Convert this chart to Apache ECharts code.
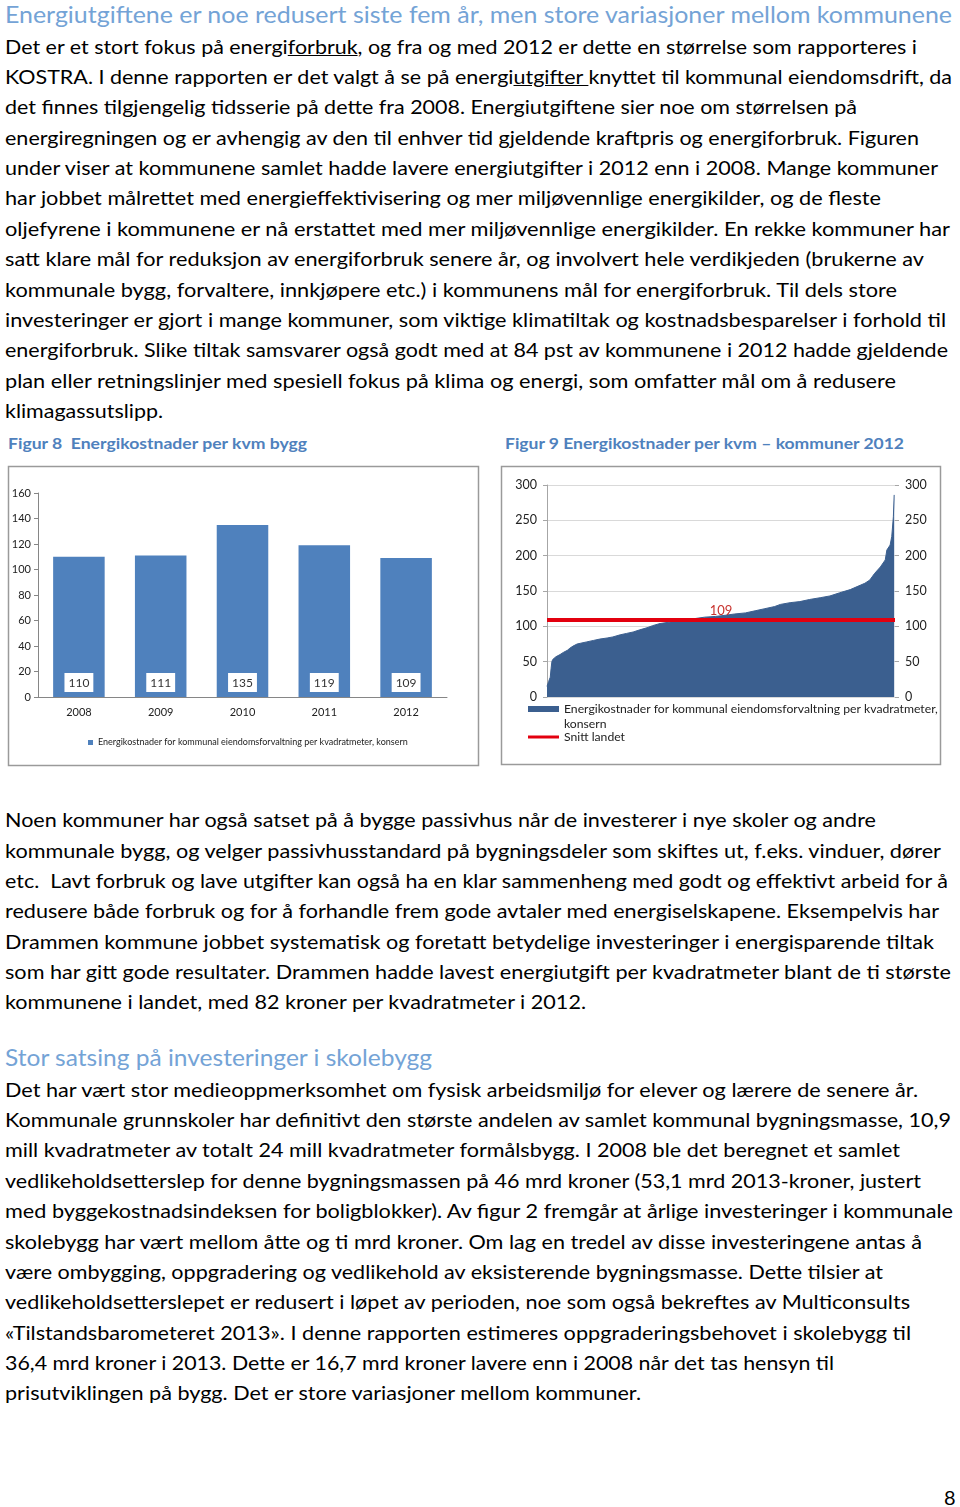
<!DOCTYPE html>
<html><head><meta charset="utf-8">
<script src="https://cdn.jsdelivr.net/npm/echarts@6/dist/echarts.min.js"></script>
<style>
html,body{margin:0;padding:0;background:#fff;}
body{width:960px;height:1507px;position:relative;overflow:hidden;font-family:Lato,'Open Sans',sans-serif;}
.ln{position:absolute;left:5px;white-space:nowrap;font-size:19px;line-height:30px;height:30px;color:#000;transform-origin:0 50%;display:inline-block;}
.h{color:#74A3D6;font-size:23px;}
.cap{color:#4F81BD;font-weight:bold;font-size:16px;}
#c1{position:absolute;left:0;top:430px;width:485px;height:340px;}
#c2{position:absolute;left:495px;top:430px;width:465px;height:340px;}
</style>
</head>
<body>
<div class="ln h" style="top:-1px" data-e="952">Energiutgiftene er noe redusert siste fem år, men store variasjoner mellom kommunene</div>
<div class="ln" style="top:32px" data-e="917">Det er et stort fokus på energi<u>forbruk</u>, og fra og med 2012 er dette en størrelse som rapporteres i</div>
<div class="ln" style="top:62px" data-e="952">KOSTRA. I denne rapporten er det valgt å se på energi<u>utgifter </u>knyttet til kommunal eiendomsdrift, da</div>
<div class="ln" style="top:92px" data-e="857">det finnes tilgjengelig tidsserie på dette fra 2008. Energiutgiftene sier noe om størrelsen på</div>
<div class="ln" style="top:123px" data-e="919">energiregningen og er avhengig av den til enhver tid gjeldende kraftpris og energiforbruk. Figuren</div>
<div class="ln" style="top:153px" data-e="938">under viser at kommunene samlet hadde lavere energiutgifter i 2012 enn i 2008. Mange kommuner</div>
<div class="ln" style="top:183px" data-e="881">har jobbet målrettet med energieffektivisering og mer miljøvennlige energikilder, og de fleste</div>
<div class="ln" style="top:214px" data-e="950">oljefyrene i kommunene er nå erstattet med mer miljøvennlige energikilder. En rekke kommuner har</div>
<div class="ln" style="top:244px" data-e="924">satt klare mål for reduksjon av energiforbruk senere år, og involvert hele verdikjeden (brukerne av</div>
<div class="ln" style="top:275px" data-e="897">kommunale bygg, forvaltere, innkjøpere etc.) i kommunens mål for energiforbruk. Til dels store</div>
<div class="ln" style="top:305px" data-e="946">investeringer er gjort i mange kommuner, som viktige klimatiltak og kostnadsbesparelser i forhold til</div>
<div class="ln" style="top:335px" data-e="948">energiforbruk. Slike tiltak samsvarer også godt med at 84 pst av kommunene i 2012 hadde gjeldende</div>
<div class="ln" style="top:366px" data-e="896">plan eller retningslinjer med spesiell fokus på klima og energi, som omfatter mål om å redusere</div>
<div class="ln" style="top:396px" data-e="163">klimagassutslipp.</div>

<div class="ln cap" style="top:428px;left:8px" data-e="307">Figur 8&nbsp; Energikostnader per kvm bygg</div>
<div class="ln cap" style="top:428px;left:505px" data-e="904">Figur 9 Energikostnader per kvm – kommuner 2012</div>

<div id="c1"></div>
<div id="c2"></div>

<div class="ln" style="top:805px" data-e="876">Noen kommuner har også satset på å bygge passivhus når de investerer i nye skoler og andre</div>
<div class="ln" style="top:836px" data-e="941">kommunale bygg, og velger passivhusstandard på bygningsdeler som skiftes ut, f.eks. vinduer, dører</div>
<div class="ln" style="top:866px" data-e="948">etc.&nbsp; Lavt forbruk og lave utgifter kan også ha en klar sammenheng med godt og effektivt arbeid for å</div>
<div class="ln" style="top:896px" data-e="939">redusere både forbruk og for å forhandle frem gode avtaler med energiselskapene. Eksempelvis har</div>
<div class="ln" style="top:927px" data-e="934">Drammen kommune jobbet systematisk og foretatt betydelige investeringer i energisparende tiltak</div>
<div class="ln" style="top:957px" data-e="951">som har gitt gode resultater. Drammen hadde lavest energiutgift per kvadratmeter blant de ti største</div>
<div class="ln" style="top:987px" data-e="586">kommunene i landet, med 82 kroner per kvadratmeter i 2012.</div>

<div class="ln h" style="top:1042px" data-e="432">Stor satsing på investeringer i skolebygg</div>

<div class="ln" style="top:1075px" data-e="918">Det har vært stor medieoppmerksomhet om fysisk arbeidsmiljø for elever og lærere de senere år.</div>
<div class="ln" style="top:1105px" data-e="951">Kommunale grunnskoler har definitivt den største andelen av samlet kommunal bygningsmasse, 10,9</div>
<div class="ln" style="top:1135px" data-e="900">mill kvadratmeter av totalt 24 mill kvadratmeter formålsbygg. I 2008 ble det beregnet et samlet</div>
<div class="ln" style="top:1166px" data-e="921">vedlikeholdsetterslep for denne bygningsmassen på 46 mrd kroner (53,1 mrd 2013-kroner, justert</div>
<div class="ln" style="top:1196px" data-e="953">med byggekostnadsindeksen for boligblokker). Av figur 2 fremgår at årlige investeringer i kommunale</div>
<div class="ln" style="top:1227px" data-e="922">skolebygg har vært mellom åtte og ti mrd kroner. Om lag en tredel av disse investeringene antas å</div>
<div class="ln" style="top:1257px" data-e="883">være ombygging, oppgradering og vedlikehold av eksisterende bygningsmasse. Dette tilsier at</div>
<div class="ln" style="top:1287px" data-e="910">vedlikeholdsetterslepet er redusert i løpet av perioden, noe som også bekreftes av Multiconsults</div>
<div class="ln" style="top:1318px" data-e="911">«Tilstandsbarometeret 2013». I denne rapporten estimeres oppgraderingsbehovet i skolebygg til</div>
<div class="ln" style="top:1348px" data-e="834">36,4 mrd kroner i 2013. Dette er 16,7 mrd kroner lavere enn i 2008 når det tas hensyn til</div>
<div class="ln" style="top:1378px" data-e="641">prisutviklingen på bygg. Det er store variasjoner mellom kommuner.</div>

<div class="ln" style="top:1482px;left:944px;font-size:20px">8</div>

<script>
// ---- Figur 8 data ----
const years = ['2008', '2009', '2010', '2011', '2012'];
const costs = [110, 111, 135, 119, 109];
const seriesName1 = 'Energikostnader for kommunal eiendomsforvaltning per kvadratmeter, konsern';

// ---- Figur 9 data (kommuner sortert etter kostnad, 2012) ----
const ranks = [0, 1, 2, 4, 5, 6, 7, 11, 16, 20, 25, 28, 32, 37, 41, 49, 57, 65, 74, 81, 90, 98, 106, 114, 123, 130, 139, 145, 157, 170, 182, 194, 207, 219, 231, 244, 256, 268, 280, 287, 299, 311, 323, 336, 348, 360, 373, 385, 391, 397, 403, 410, 416, 418, 422, 424, 426, 427];
const kostnad = [15, 16, 22, 28, 40, 50, 53, 57, 60, 63, 66, 69, 72, 75, 76, 78, 80, 82, 83.5, 85, 88, 90, 92, 95, 98, 101, 104, 105, 107, 109, 111, 113, 114, 115.6, 117.5, 119, 122, 125, 128, 131, 133.5, 135, 138, 140.5, 143, 147.5, 152, 158, 161, 165.5, 175, 184, 194, 208, 215, 227, 255, 286];
const antallKommuner = 428;
const snittLandet = 109;
const seriesName2 = 'Energikostnader for kommunal eiendomsforvaltning per kvadratmeter, konsern';
const seriesName3 = 'Snitt landet';

function fitLines() {
  document.querySelectorAll('.ln[data-e]').forEach(el => {
    el.style.transform = 'none';
    const left = parseFloat(getComputedStyle(el).left);
    const w = el.getBoundingClientRect().width;
    const target = parseFloat(el.dataset.e) - left;
    if (w > 0) el.style.transform = 'scaleX(' + (target / w) + ')';
  });
}
fitLines();
if (document.fonts && document.fonts.ready) document.fonts.ready.then(fitLines);

const FONT = 'Lato, "Open Sans", sans-serif';

const c1 = echarts.init(document.getElementById('c1'));
c1.setOption({
  animation: false,
  textStyle: { fontFamily: FONT },
  graphic: [{ type: 'rect', shape: { x: 8.5, y: 36.5, width: 470, height: 299 },
    style: { fill: 'none', stroke: '#9A9A9A', lineWidth: 1.5 } }],
  grid: { left: 38, right: 38, top: 63, bottom: 73 },
  xAxis: { type: 'category', data: years,
    axisLine: { lineStyle: { color: '#868686' } }, axisTick: { show: false },
    axisLabel: { color: '#222', fontSize: 11, margin: 10 } },
  yAxis: { type: 'value', min: 0, max: 160, interval: 20,
    axisLine: { show: true, lineStyle: { color: '#868686' } },
    axisTick: { show: true, length: 4, lineStyle: { color: '#868686' } },
    splitLine: { show: false },
    axisLabel: { color: '#222', fontSize: 11, margin: 7 } },
  legend: { left: 83, top: 303, itemWidth: 5, itemHeight: 5, icon: 'rect', selectedMode: false,
    textStyle: { fontSize: 9, color: '#222', fontFamily: FONT } },
  series: [{ type: 'bar', name: seriesName1, data: costs, barCategoryGap: '37%',
    itemStyle: { color: '#4F81BD' },
    label: { show: true, position: 'insideBottom', distance: 5, backgroundColor: '#fff',
      color: '#333', fontSize: 12, padding: [4, 4, 3, 4] } }]
});

const c2 = echarts.init(document.getElementById('c2'));
const yLabel = { color: '#222', fontSize: 12.5, margin: 10 };
c2.setOption({
  animation: false,
  textStyle: { fontFamily: FONT },
  graphic: [{ type: 'rect', shape: { x: 6.5, y: 36.5, width: 439, height: 298 },
    style: { fill: 'none', stroke: '#9A9A9A', lineWidth: 1.5 } }],
  grid: { left: 52, right: 65, top: 55, bottom: 73 },
  xAxis: { type: 'value', min: 0, max: antallKommuner, show: false },
  yAxis: [
    { type: 'value', min: 0, max: 300, interval: 50, position: 'left',
      axisLine: { show: true, lineStyle: { color: '#A6A6A6' } },
      axisTick: { show: true, length: 4, lineStyle: { color: '#A6A6A6' } },
      splitLine: { lineStyle: { color: '#D9D9D9' } }, axisLabel: yLabel },
    { type: 'value', min: 0, max: 300, interval: 50, position: 'right',
      axisLine: { show: false },
      axisTick: { show: true, length: 4, lineStyle: { color: '#A6A6A6' } },
      splitLine: { show: false }, axisLabel: yLabel }
  ],
  legend: [
    { left: 28, top: 251.5, itemWidth: 31, itemHeight: 6, icon: 'rect', selectedMode: false,
      data: [seriesName2],
      formatter: n => ' \n' + n.replace(', ', ',\n'),
      textStyle: { fontSize: 12.2, color: '#222', lineHeight: 15, fontFamily: FONT } },
    { left: 28, top: 294.5, itemWidth: 31, itemHeight: 3, icon: 'rect', selectedMode: false,
      data: [seriesName3],
      textStyle: { fontSize: 12.2, color: '#222', lineHeight: 15, fontFamily: FONT } }
  ],
  series: [
    { type: 'line', name: seriesName2, data: ranks.map((r, i) => [r, kostnad[i]]),
      symbol: 'none', lineStyle: { width: 1, color: '#3B5F8F' }, itemStyle: { color: '#3B5F8F' },
      areaStyle: { color: '#3B5F8F', opacity: 1 } },
    { type: 'line', name: seriesName3, data: [[0, snittLandet], [antallKommuner, snittLandet]],
      symbol: 'none', lineStyle: { width: 4, color: '#E3000F' }, itemStyle: { color: '#E3000F' },
      markLine: { symbol: 'none', silent: true,
        lineStyle: { color: '#E3000F', width: 4, type: 'solid' },
        label: { position: 'middle', formatter: '{c}', color: '#C8332E', fontSize: 13, distance: 3 },
        data: [{ yAxis: snittLandet }] } }
  ]
});
</script>
</body></html>
